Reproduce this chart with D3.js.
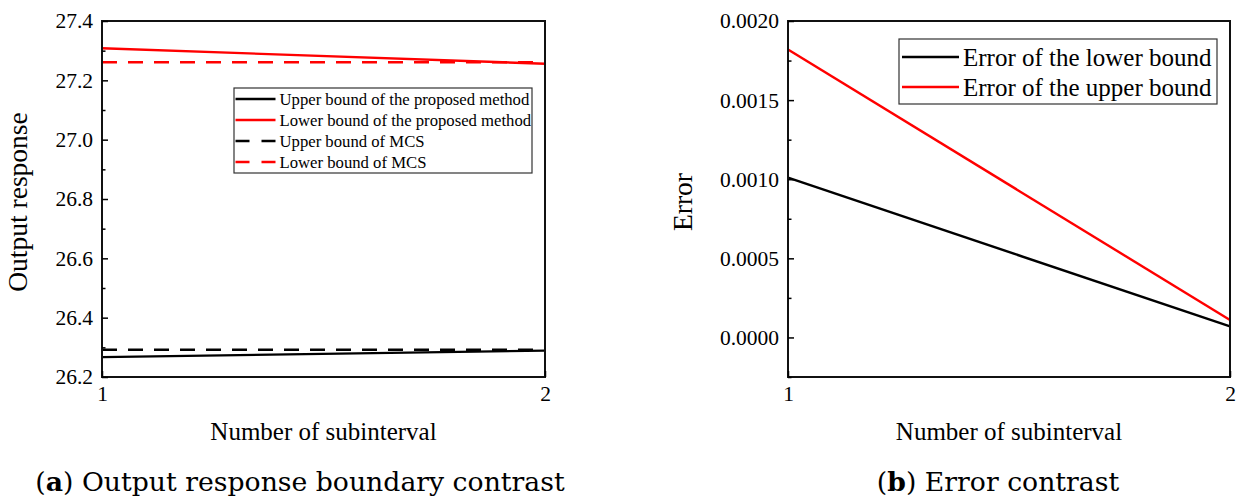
<!DOCTYPE html>
<html><head><meta charset="utf-8">
<script src="https://cdn.jsdelivr.net/npm/d3@7"></script>
<style>
body{margin:0;background:#fff;}
</style></head>
<body><svg id="c" width="1237" height="504"></svg>
<script>
// ---- data ----
const subintervals = [1, 2];
const upperProposed = [26.267, 26.289];
const lowerProposed = [27.308, 27.256];
const upperMCS = [26.292, 26.292];
const lowerMCS = [27.261, 27.261];
const errorLower = [0.00101, 0.00007];
const errorUpper = [0.00182, 0.00011];
const ticksA = [26.2, 26.4, 26.6, 26.8, 27.0, 27.2, 27.4];
const minorA = [26.3, 26.5, 26.7, 26.9, 27.1, 27.3];
const ticksB = [0, 0.0005, 0.0010, 0.0015, 0.0020];
const minorB = [-0.00025, 0.00025, 0.00075, 0.00125, 0.00175];
const legendA = ["Upper bound of the proposed method", "Lower bound of the proposed method", "Upper bound of MCS", "Lower bound of MCS"];
const legendB = ["Error of the lower bound", "Error of the upper bound"];

const SERIF = "'Liberation Serif','Times New Roman',serif";
const svg = d3.select("#c");

function panel(o){
  const g = svg.append("g");
  const x = d3.scaleLinear().domain([1,2]).range([o.x0,o.x1]);
  const y = d3.scaleLinear().domain(o.ydom).range([o.y1,o.y0]);
  // series
  o.series.forEach(s=>{
    g.append("path")
      .attr("d", d3.line().x((d,i)=>x(subintervals[i])).y(d=>y(d))(s.values))
      .attr("fill","none").attr("stroke",s.color).attr("stroke-width",2.4)
      .attr("stroke-dasharray",s.dash||null);
  });
  // frame
  g.append("rect").attr("x",o.x0).attr("y",o.y0).attr("width",o.x1-o.x0).attr("height",o.y1-o.y0)
    .attr("fill","none").attr("stroke","#111").attr("stroke-width",2);
  // y axis
  const ya = d3.axisLeft(y).tickValues(o.ticks).tickSize(-6).tickPadding(9).tickFormat(o.fmt);
  const yg = g.append("g").attr("transform",`translate(${o.x0},0)`).call(ya);
  yg.select(".domain").remove();
  yg.selectAll("line").attr("stroke","#000").attr("stroke-width",1.5);
  yg.selectAll("text").style("font-size",o.fs+"px").style("font-family",SERIF).attr("fill","#000");
  const ym = d3.axisLeft(y).tickValues(o.minor).tickSize(-3.5).tickFormat("");
  const ymg = g.append("g").attr("transform",`translate(${o.x0},0)`).call(ym);
  ymg.select(".domain").remove();
  ymg.selectAll("line").attr("stroke","#000").attr("stroke-width",1.5);
  // x axis
  const xa = d3.axisBottom(x).tickValues(subintervals).tickSize(-6).tickPadding(9).tickFormat(d3.format("d"));
  const xg = g.append("g").attr("transform",`translate(0,${o.y1})`).call(xa);
  xg.select(".domain").remove();
  xg.selectAll("line").attr("stroke","#000").attr("stroke-width",1.5);
  xg.selectAll("text").style("font-size",o.fs+"px").style("font-family",SERIF).attr("fill","#000");
  // titles
  g.append("text").attr("x",(o.x0+o.x1)/2).attr("y",o.y1+63).attr("text-anchor","middle")
    .style("font-size","25px").style("font-family",SERIF).text("Number of subinterval");
  g.append("text").attr("transform",`translate(${o.ytx},${(o.y0+o.y1)/2+3}) rotate(-90)`).attr("text-anchor","middle")
    .style("font-size","27.5px").style("font-family",SERIF).text(o.ytitle);
  // legend
  const L = o.legend;
  const lg = g.append("g");
  lg.append("rect").attr("x",L.x).attr("y",L.y).attr("width",L.w).attr("height",L.h)
    .attr("fill","#fff").attr("stroke","#333").attr("stroke-width",1.2);
  o.series.forEach((s,i)=>{
    const yy = L.y + L.first + i*L.step;
    lg.append("line").attr("x1",L.x+L.pad).attr("x2",L.x+L.pad+L.len).attr("y1",yy).attr("y2",yy)
      .attr("stroke",s.color).attr("stroke-width",2.4).attr("stroke-dasharray",s.dash?"14,12":null);
    lg.append("text").attr("x",L.x+L.pad+L.len+4).attr("y",yy).attr("dy","0.35em")
      .style("font-size",L.fs+"px").style("font-family",SERIF).text(L.labels[i]);
  });
  // caption
  const cap = g.append("text").attr("x",o.capx).attr("y",491).attr("text-anchor","middle")
    .style("font-family","'DejaVu Serif','Liberation Serif',serif").style("font-size","26.7px");
  cap.append("tspan").text("(");
  cap.append("tspan").attr("font-weight","bold").text(o.capLetter);
  cap.append("tspan").text(") " + o.capText);
}

panel({
  x0:102, x1:545, y0:21, y1:377, ydom:[26.2,27.4], ticks:ticksA, minor:minorA,
  fmt:d3.format(".1f"), fs:21.5, ytitle:"Output response", ytx:27,
  series:[
    {values:upperProposed,color:"#000"},
    {values:lowerProposed,color:"#ff0000"},
    {values:upperMCS,color:"#000",dash:"15,11"},
    {values:lowerMCS,color:"#ff0000",dash:"15,11"}
  ],
  legend:{x:234,y:88,w:298,h:85,first:11,step:21,pad:1.5,len:40,fs:16.7,labels:legendA},
  capx:300, capLetter:"a", capText:"Output response boundary contrast"
});

panel({
  x0:788, x1:1230, y0:21, y1:377, ydom:[-0.00025,0.002], ticks:ticksB, minor:minorB,
  fmt:d3.format(".4f"), fs:21.5, ytitle:"Error", ytx:692,
  series:[
    {values:errorLower,color:"#000"},
    {values:errorUpper,color:"#ff0000"}
  ],
  legend:{x:899,y:39,w:318,h:65,first:18,step:30,pad:3,len:57,fs:25,labels:legendB},
  capx:998, capLetter:"b", capText:"Error contrast"
});
</script></body></html>
